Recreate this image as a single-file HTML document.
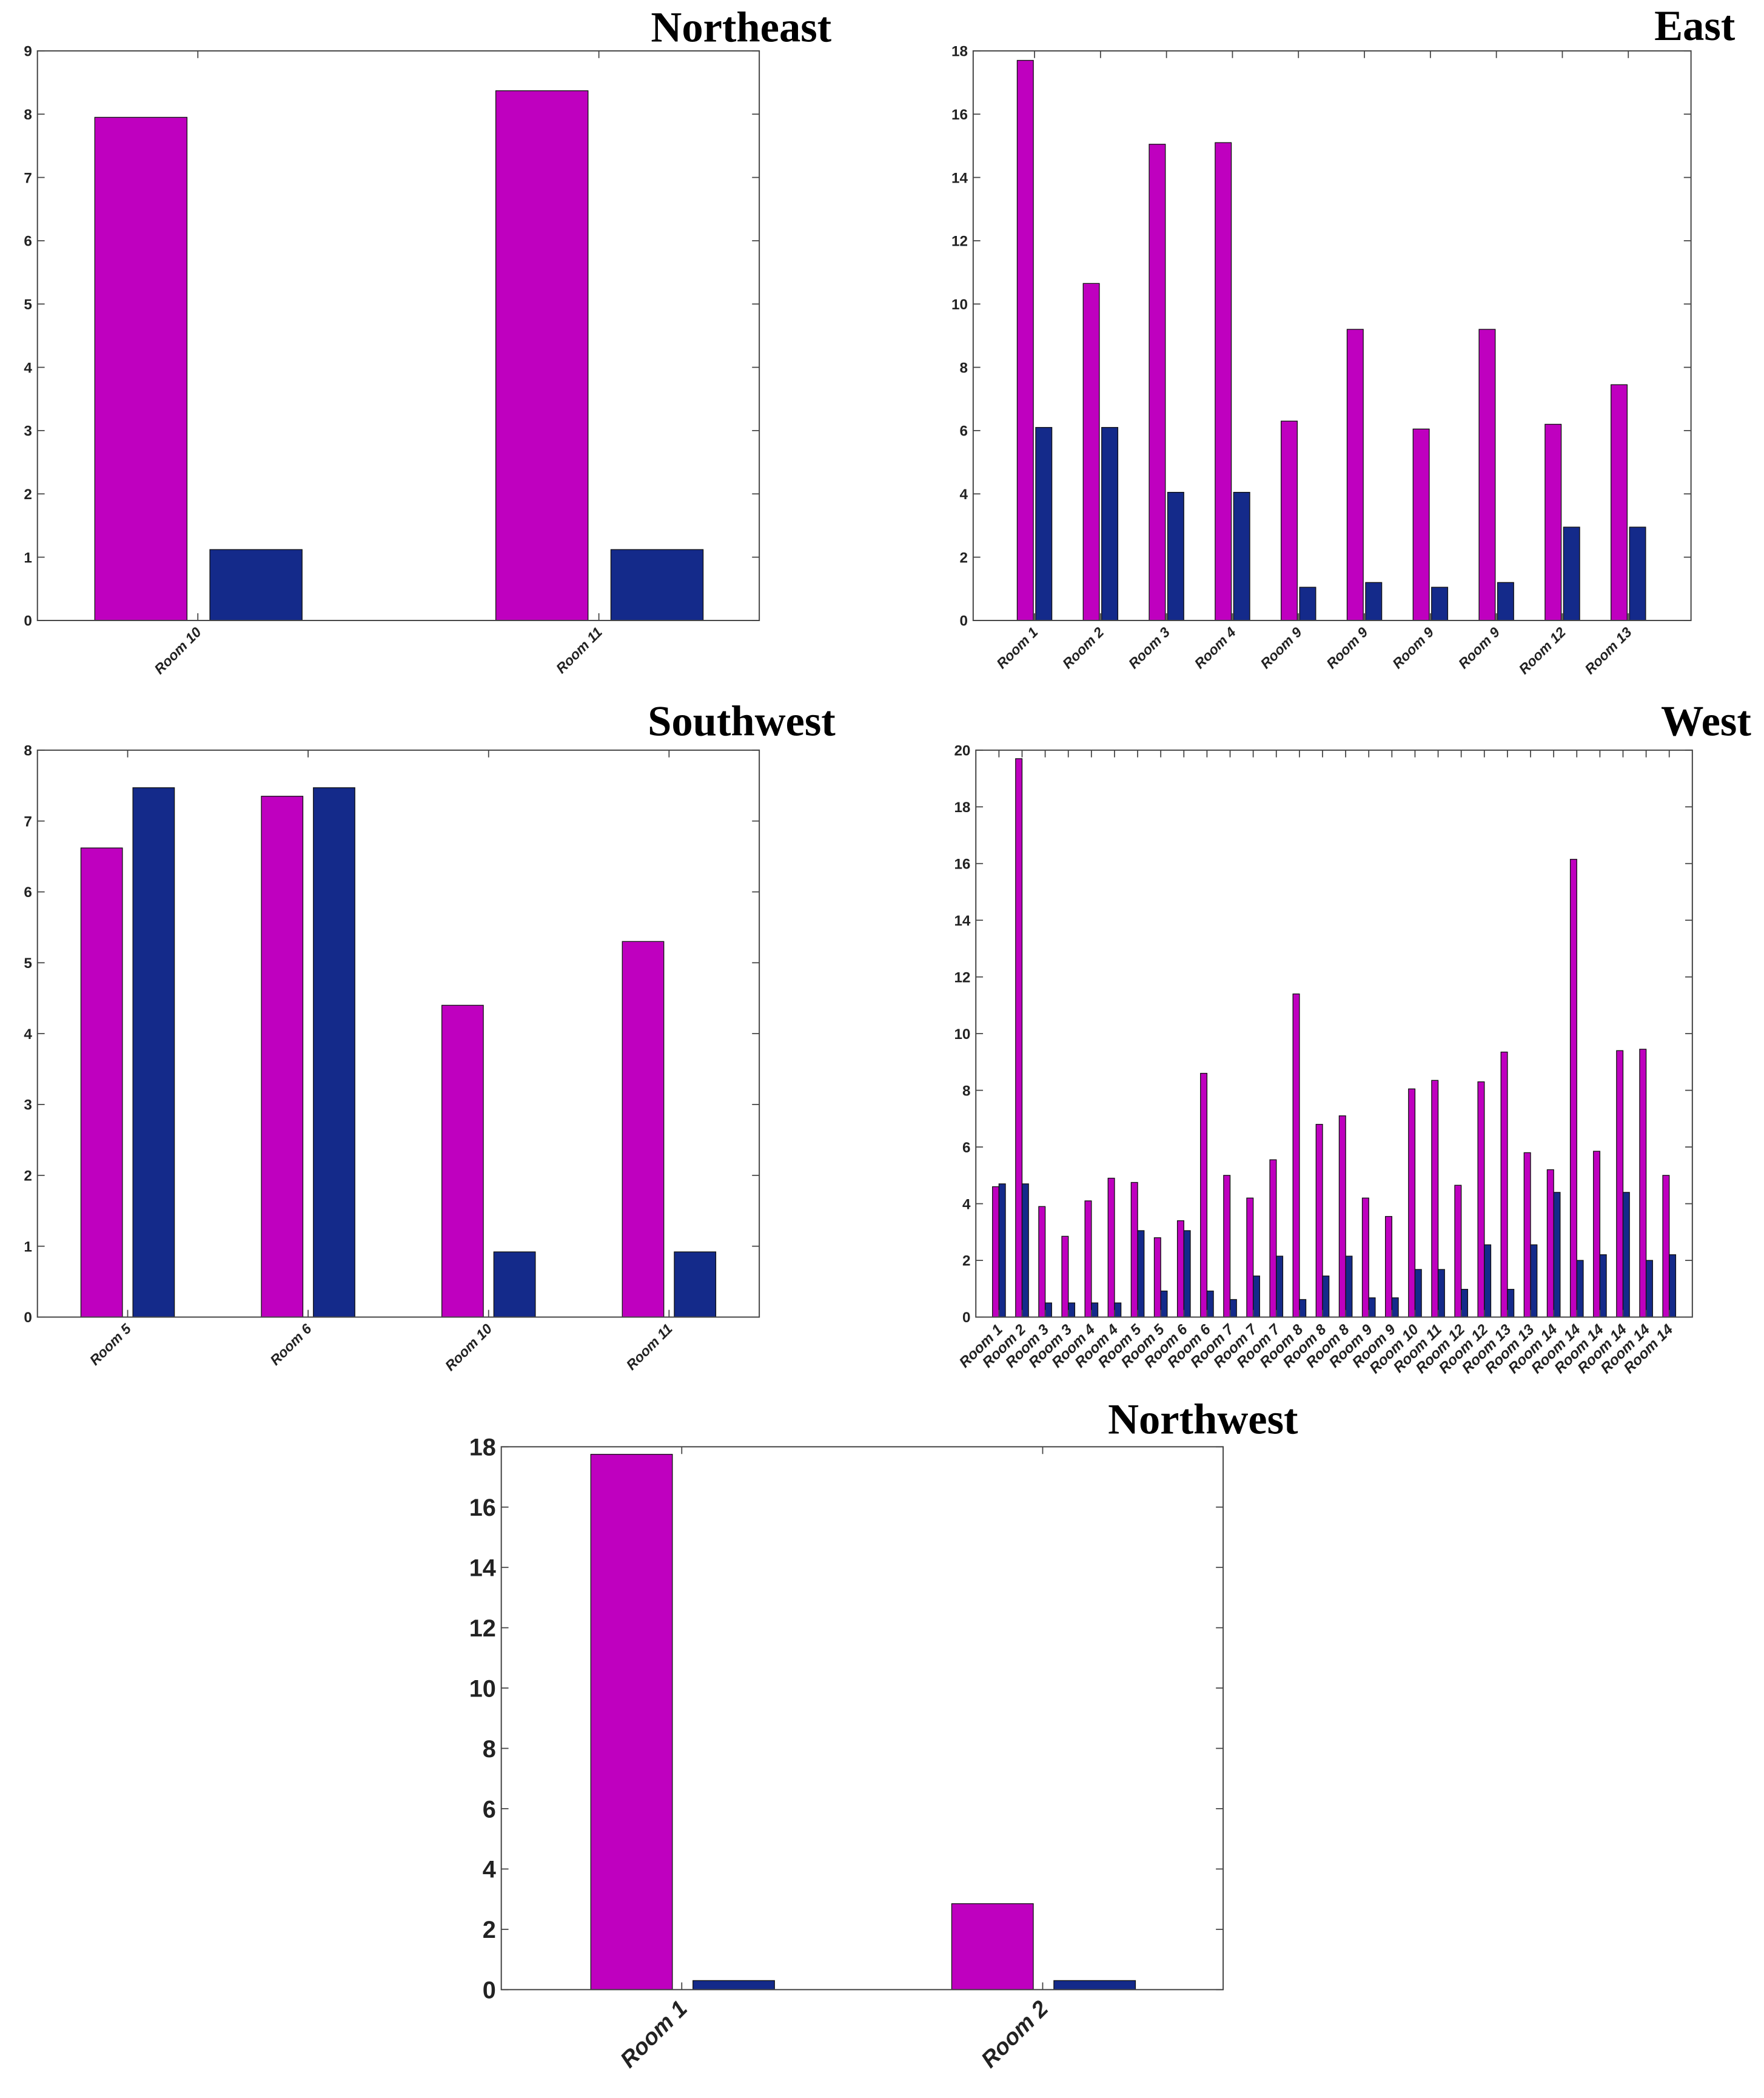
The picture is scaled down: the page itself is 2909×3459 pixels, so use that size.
<!DOCTYPE html>
<html><head><meta charset="utf-8"><style>
html,body{margin:0;padding:0;background:#fff}
svg{display:block}
text{font-family:"Liberation Sans",sans-serif}
.title{font-family:"Liberation Serif",serif;font-weight:bold}
</style></head><body>
<svg id="fig" width="2909" height="3459" viewBox="0 0 1319.6 1569" xmlns="http://www.w3.org/2000/svg"></svg>
<script>
// Northeast
const neCats = ["Room 10","Room 11"];
const neA = [7.95, 8.37];
const neB = [1.12, 1.12];
const neTicks = [0,1,2,3,4,5,6,7,8,9];
// East
const eCats = ["Room 1","Room 2","Room 3","Room 4","Room 9","Room 9","Room 9","Room 9","Room 12","Room 13"];
const eA = [17.7,10.65,15.05,15.1,6.3,9.2,6.05,9.2,6.2,7.45];
const eB = [6.1,6.1,4.05,4.05,1.05,1.2,1.05,1.2,2.95,2.95];
const eTicks = [0,2,4,6,8,10,12,14,16,18];
// Southwest
const swCats = ["Room 5","Room 6","Room 10","Room 11"];
const swA = [6.62,7.35,4.4,5.3];
const swB = [7.47,7.47,0.92,0.92];
const swTicks = [0,1,2,3,4,5,6,7,8];
// West
const wCats = ["Room 1","Room 2","Room 3","Room 3","Room 4","Room 4","Room 5","Room 5","Room 6","Room 6","Room 7","Room 7","Room 7","Room 8","Room 8","Room 8","Room 9","Room 9","Room 10","Room 11","Room 12","Room 12","Room 13","Room 13","Room 14","Room 14","Room 14","Room 14","Room 14","Room 14"];
const wA = [4.6,19.7,3.9,2.85,4.1,4.9,4.75,2.8,3.4,8.6,5.0,4.2,5.55,11.4,6.8,7.1,4.2,3.55,8.05,8.35,4.65,8.3,9.35,5.8,5.2,16.15,5.85,9.4,9.45,5.0];
const wB = [4.7,4.7,0.5,0.5,0.5,0.5,3.05,0.92,3.05,0.92,0.62,1.45,2.15,0.62,1.45,2.15,0.68,0.68,1.68,1.68,0.98,2.55,0.98,2.55,4.4,2.0,2.2,4.4,2.0,2.2];
const wTicks = [0,2,4,6,8,10,12,14,16,18,20];
// Northwest
const nwCats = ["Room 1","Room 2"];
const nwA = [17.75, 2.85];
const nwB = [0.3, 0.3];
const nwTicks = [0,2,4,6,8,10,12,14,16,18];

const NS="http://www.w3.org/2000/svg";
const svg=document.getElementById('fig');
function mk(tag,attrs,parent){const e=document.createElementNS(NS,tag);for(const k in attrs)e.setAttribute(k,attrs[k]);(parent||svg).appendChild(e);return e;}

function chart(o){
  const g=mk('g',{});
  
  
  const L=o.box[0],R=o.box[1],T=o.box[2],B=o.box[3];
  const ymax=o.ticks[o.ticks.length-1];
  const x=v=>L+(v-o.xlim[0])/(o.xlim[1]-o.xlim[0])*(R-L);
  const y=v=>B-v/ymax*(B-T);
  const sp=(R-L)/(o.xlim[1]-o.xlim[0]);
  const bg=mk('rect',{x:L,y:T,width:R-L,height:B-T,fill:'#fff'},g);
  
  
  o.a.forEach((v,i)=>{
    const cx=x(i+1);
    const r=mk('rect',{x:cx+o.off[0]*sp-o.w*sp/2,y:y(v),width:o.w*sp,height:B-y(v),fill:'#BF00BF',stroke:'#111','stroke-width':0.6},g);
    
    
  });
  o.b.forEach((v,i)=>{
    const cx=x(i+1);
    const r=mk('rect',{x:cx+o.off[1]*sp-o.w*sp/2,y:y(v),width:o.w*sp,height:B-y(v),fill:'#142A8A',stroke:'#111','stroke-width':0.6},g);
    
    
  });
  const ax=mk('rect',{x:L,y:T,width:R-L,height:B-T,fill:'none',stroke:'#444','stroke-width':0.9},g);
  
  
  const tl=(R-L)*0.01;
  o.ticks.forEach(t=>{
    const yy=y(t);
    mk('line',{x1:L,x2:L+tl,y1:yy,y2:yy,stroke:'#444','stroke-width':0.8},g);
    mk('line',{x1:R,x2:R-tl,y1:yy,y2:yy,stroke:'#444','stroke-width':0.8},g);
    const tx=mk('text',{x:L-4,y:yy+o.fs*0.36,'font-size':o.fs,'font-weight':'bold','text-anchor':'end',fill:'#222'},g);
    tx.textContent=t;
    
    
  });
  o.cats.forEach((c,i)=>{
    const xx=x(i+1);
    mk('line',{x1:xx,x2:xx,y1:B,y2:B-tl,stroke:'#444','stroke-width':0.8},g);
    mk('line',{x1:xx,x2:xx,y1:T,y2:T+tl,stroke:'#444','stroke-width':0.8},g);
    const tx=mk('text',{x:xx+o.xfs*0.3,y:B+o.xfs*0.9,'font-size':o.xfs,'font-weight':'bold','font-style':'italic','text-anchor':'end',fill:'#222',transform:'rotate(-45 '+(xx+o.xfs*0.3)+' '+(B+o.xfs*0.9)+')'},g);
    tx.textContent=c;
    
    
  });
  const ti=mk('text',{x:o.title[0],y:o.title[1],'font-size':o.tfs,'text-anchor':'end',fill:'#000','class':'title'},g);
  ti.textContent=o.label;
  
  
}

chart({name:'northeast',label:'Northeast',box:[28,568,38,464],xlim:[0.6,2.4],cats:neCats,a:neA,b:neB,ticks:neTicks,w:0.23,off:[-0.142,0.145],fs:11,xfs:10.5,title:[622,31],tfs:32});
chart({name:'east',label:'East',box:[728,1265,38,464],xlim:[0.07,10.95],cats:eCats,a:eA,b:eB,ticks:eTicks,w:0.245,off:[-0.14,0.14],fs:11,xfs:10.5,title:[1298,30],tfs:32});
chart({name:'southwest',label:'Southwest',box:[28,568,561,985],xlim:[0.5,4.5],cats:swCats,a:swA,b:swB,ticks:swTicks,w:0.23,off:[-0.144,0.144],fs:11,xfs:10.5,title:[625,550],tfs:32});
chart({name:'west',label:'West',box:[730,1266,561,985],xlim:[0,31],cats:wCats,a:wA,b:wB,ticks:wTicks,w:0.28,off:[-0.14,0.14],fs:11,xfs:11,title:[1310,550],tfs:32});
chart({name:'northwest',label:'Northwest',box:[375,915,1082,1488],xlim:[0.5,2.5],cats:nwCats,a:nwA,b:nwB,ticks:nwTicks,w:0.226,off:[-0.139,0.144],fs:18,xfs:17,title:[971,1072],tfs:32});
</script>
</body></html>
